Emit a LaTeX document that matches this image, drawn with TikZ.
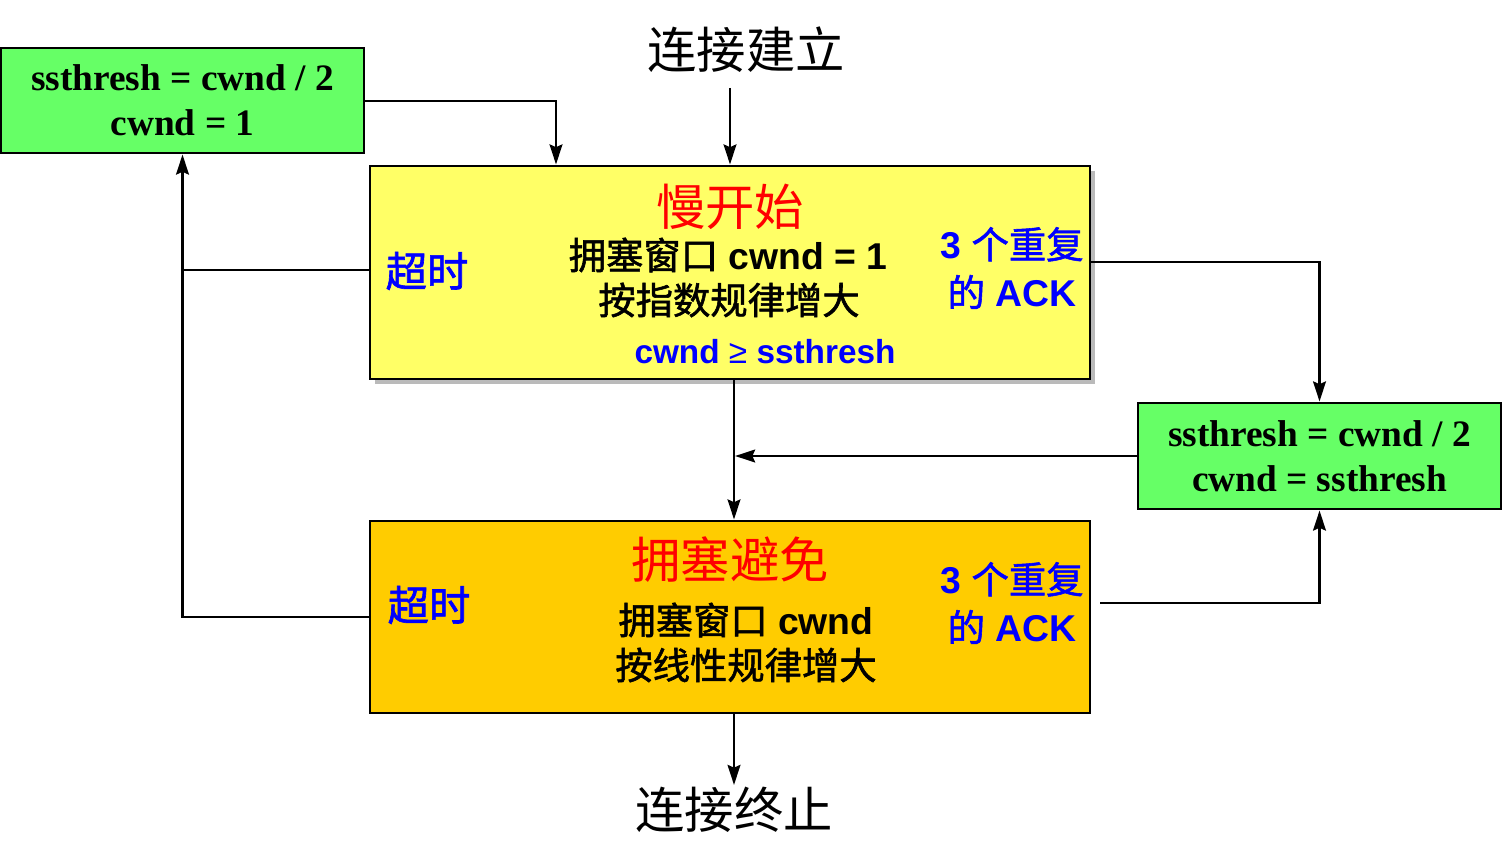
\documentclass[tikz,border=0pt]{standalone}
\usepackage{fontspec}
\setmainfont{Liberation Sans}
\newfontfamily\cjk{Noto Sans CJK SC}
\newfontfamily\cjkm[FakeBold=1.5]{Noto Sans CJK SC}
\newfontfamily\tnr{Liberation Serif}
\usetikzlibrary{arrows.meta,shadows}
\definecolor{gbox}{HTML}{66FF66}
\definecolor{ybox}{HTML}{FFFF66}
\definecolor{obox}{HTML}{FFCC00}
\definecolor{tblue}{HTML}{0000FF}
\definecolor{tred}{HTML}{FF0000}
\begin{document}
\begin{tikzpicture}[x=0.75pt,y=-0.75pt,
  box/.style={draw=black,line width=2.2pt,inner sep=0pt},
  gtext/.style={font=\tnr\bfseries\fontsize{28}{34}\selectfont,align=center},
  ln/.style={line width=2.2pt},
  arr/.style={line width=2.2pt,-{Stealth[length=15pt,width=9.5pt,inset=2pt]}},
  txt/.style={inner sep=0pt,align=center},
  big/.style={txt,font=\cjk\fontsize{37}{44}\selectfont},
  body/.style={txt,font=\fontsize{28}{34}\selectfont},
  blue/.style={txt,text=tblue,font=\bfseries\fontsize{28}{34}\selectfont}]
\useasboundingbox (0,0) rectangle (1502,867);
% boxes
\node[box,fill=gbox,minimum width=272.25pt,minimum height=78.75pt,gtext] (g1) at (182.5,100.5) {ssthresh = cwnd / 2\\cwnd = 1};
\node[box,fill=ybox,minimum width=540pt,minimum height=159.75pt,
  drop shadow={shadow xshift=3.5pt,shadow yshift=-3.5pt,opacity=0.45,fill=black!60}] (slow) at (730,272.5) {};
\node[box,fill=gbox,minimum width=272.25pt,minimum height=79.5pt,gtext] (g2) at (1319.5,456) {ssthresh = cwnd / 2\\cwnd = ssthresh};
\node[box,fill=obox,minimum width=540pt,minimum height=144pt] (ca) at (730,617) {};
% texts
\node[big] (start) at (746,50) {连接建立};
\node[big] (stop) at (734,810) {连接终止};
\node[big,text=tred] (slowt) at (730,207) {慢开始};
\node[body] (slow1) at (728,255) {{\cjkm 拥塞窗口} \textbf{cwnd = 1}};
\node[body] (slow2) at (729,300) {\cjkm 按指数规律增大};
\node[blue,font=\bfseries\fontsize{25}{30}\selectfont] (slow3) at (765,352) {cwnd {\mdseries ≥} ssthresh};
\node[txt,text=tblue,font=\cjkm\fontsize{31}{36}\selectfont] (to1) at (427,271) {超时};
\node[blue] (ack1) at (1012,268) {3 {\mdseries\cjkm 个重复}\\[2pt]{\mdseries\cjkm 的} ACK};
\node[big,text=tred] (cat) at (730,560) {拥塞避免};
\node[body] (ca1) at (746,620) {{\cjkm 拥塞窗口} \textbf{cwnd}};
\node[body] (ca2) at (746,665) {\cjkm 按线性规律增大};
\node[txt,text=tblue,font=\cjkm\fontsize{31}{36}\selectfont] (to2) at (429,605) {超时};
\node[blue] (ack2) at (1012,603) {3 {\mdseries\cjkm 个重复}\\[2pt]{\mdseries\cjkm 的} ACK};
% helper coordinates
\coordinate (c1) at (730,88);
\coordinate (c2) at (556,101);
\coordinate (c3) at (1090,262);
\coordinate (c4) at (1100,603);
\coordinate (c5) at (734,379);
\coordinate (c6) at (734,713);
\coordinate (c7) at (734,785);
\coordinate (c8) at (735,456);
% connectors
\draw[arr] (c1) -- (c1 |- slow.north);
\draw[arr] (g1.east |- c2) -| (c2 |- slow.north);
\draw[ln] (slow.west |- 0,270) -- (g1.south |- 0,270);
\draw[arr] (ca.west) -| (g1.south);
\draw[arr] (c3) -| (g2.north);
\draw[arr] (c4) -| (g2.south);
\draw[arr] (g2.west) -- (c8);
\draw[arr] (c5) -- (c5 |- ca.north);
\draw[arr] (c6) -- (c7);
\end{tikzpicture}
\end{document}
